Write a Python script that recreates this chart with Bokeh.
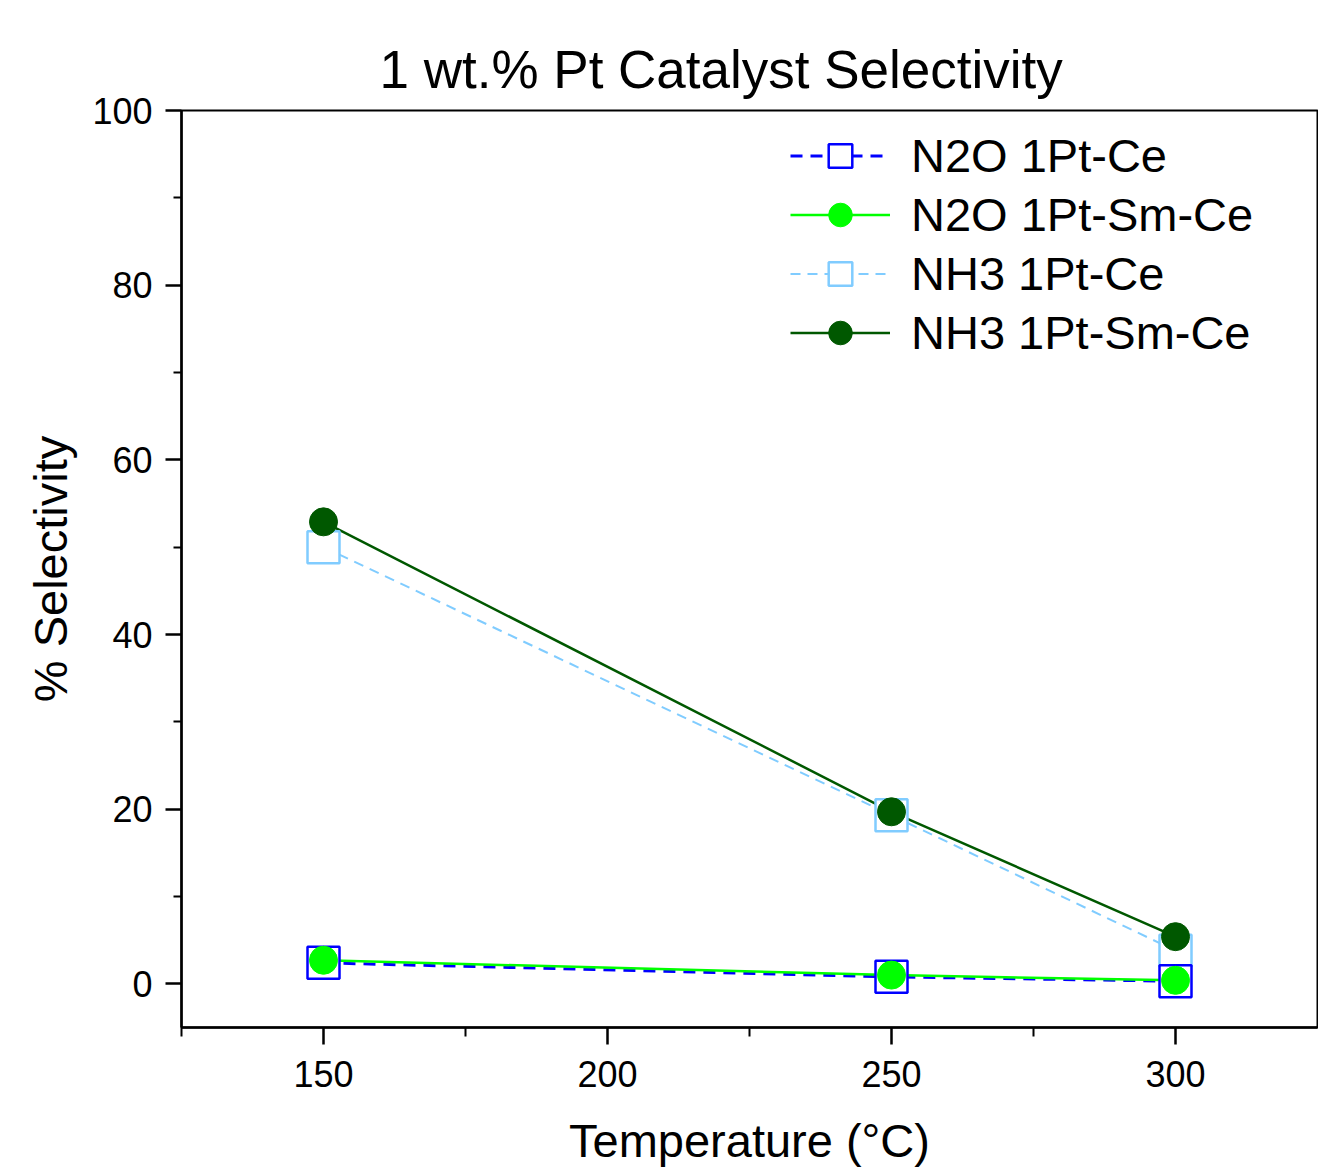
from bokeh.plotting import figure
from bokeh.models import Range1d, FixedTicker, Legend, LegendItem, ColumnDataSource
from bokeh.embed import file_html
from bokeh.resources import INLINE

# Temperatures (°C) and % selectivity for each product / catalyst
temperature = [150, 250, 300]
n2o_pt_ce = [2.4, 0.8, 0.3]
n2o_pt_sm_ce = [2.7, 1.0, 0.4]
nh3_pt_ce = [50.0, 19.3, 3.8]
nh3_pt_sm_ce = [52.9, 19.7, 5.4]

x_major = [150, 200, 250, 300]
x_minor = [125, 175, 225, 275]
y_major = [0, 20, 40, 60, 80, 100]
y_minor = [10, 30, 50, 70, 90]

FONT = "Liberation Sans"

p = figure(
    width=1318, height=1169,
    output_backend="svg", toolbar_location=None,
    x_range=Range1d(125, 325), y_range=Range1d(-5, 100),
    min_border_left=181, min_border_right=1,
    min_border_top=110, min_border_bottom=142,
    title="1 wt.% Pt Catalyst Selectivity",
)

p.title.text_font = FONT
p.title.text_font_size = "53px"
p.title.text_font_style = "normal"
p.title.text_color = "black"
p.title.align = "left"
p.title.offset = 198
p.title.standoff = 23

p.xgrid.visible = False
p.ygrid.visible = False
p.outline_line_color = "black"
p.outline_line_width = 2
p.background_fill_color = "white"
p.border_fill_color = "white"

p.xaxis.ticker = FixedTicker(ticks=x_major, minor_ticks=x_minor)
p.yaxis.ticker = FixedTicker(ticks=y_major, minor_ticks=y_minor)

for ax in (p.xaxis[0], p.yaxis[0]):
    ax.axis_line_color = "black"
    ax.axis_line_width = 2.5
    ax.major_tick_line_color = "black"
    ax.major_tick_line_width = 2.5
    ax.minor_tick_line_color = "black"
    ax.minor_tick_line_width = 2
    ax.major_tick_in = 0
    ax.minor_tick_in = 0
    ax.major_label_text_font = FONT
    ax.major_label_text_font_size = "36px"
    ax.major_label_text_color = "black"
    ax.axis_label_text_font = FONT
    ax.axis_label_text_font_size = "47px"
    ax.axis_label_text_font_style = "normal"
    ax.axis_label_text_color = "black"

p.xaxis.major_tick_out = 17
p.xaxis.minor_tick_out = 9
p.xaxis.major_label_standoff = 16
p.xaxis.axis_label = "Temperature (°C)"
p.xaxis.axis_label_standoff = 24

p.yaxis.major_tick_out = 16
p.yaxis.minor_tick_out = 8
p.yaxis.major_label_standoff = 13
p.yaxis.axis_label = "% Selectivity"
p.yaxis.axis_label_standoff = 12

src = ColumnDataSource(dict(
    t=temperature,
    n2o_ce=n2o_pt_ce,
    n2o_smce=n2o_pt_sm_ce,
    nh3_ce=nh3_pt_ce,
    nh3_smce=nh3_pt_sm_ce,
))

BLUE = "#0000FF"
LIME = "#00FF00"
SKY = "#80CCFF"
DKGREEN = "#005800"

# lines first, markers on top
l_nh3_ce = p.line("t", "nh3_ce", source=src, line_color=SKY, line_width=2, line_dash="10 7")
l_n2o_ce = p.line("t", "n2o_ce", source=src, line_color=BLUE, line_width=3, line_dash="12 8")
l_n2o_smce = p.line("t", "n2o_smce", source=src, line_color=LIME, line_width=2.5)
l_nh3_smce = p.line("t", "nh3_smce", source=src, line_color=DKGREEN, line_width=2.5)

m_nh3_ce = p.scatter("t", "nh3_ce", source=src, marker="square", size=32,
                     line_color=SKY, line_width=2.5, fill_color="white")
m_n2o_ce = p.scatter("t", "n2o_ce", source=src, marker="square", size=32,
                     line_color=BLUE, line_width=2.5, fill_color="white")
m_n2o_smce = p.scatter("t", "n2o_smce", source=src, marker="circle", size=28,
                       line_color=LIME, line_width=1, fill_color=LIME)
m_nh3_smce = p.scatter("t", "nh3_smce", source=src, marker="circle", size=28,
                       line_color=DKGREEN, line_width=1, fill_color=DKGREEN)

legend = Legend(
    items=[
        LegendItem(label="N2O 1Pt-Ce", renderers=[l_n2o_ce, m_n2o_ce]),
        LegendItem(label="N2O 1Pt-Sm-Ce", renderers=[l_n2o_smce, m_n2o_smce]),
        LegendItem(label="NH3 1Pt-Ce", renderers=[l_nh3_ce, m_nh3_ce]),
        LegendItem(label="NH3 1Pt-Sm-Ce", renderers=[l_nh3_smce, m_nh3_smce]),
    ],
    location=(609, 665),
    orientation="vertical",
    background_fill_alpha=0,
    border_line_alpha=0,
    padding=0,
    margin=0,
    spacing=0,
    glyph_width=100,
    glyph_height=59,
    label_height=59,
    label_standoff=21,
    label_text_font=FONT,
    label_text_font_size="47px",
    label_text_color="black",
)
p.add_layout(legend)

open("out.html", "w").write(file_html(p, INLINE))
